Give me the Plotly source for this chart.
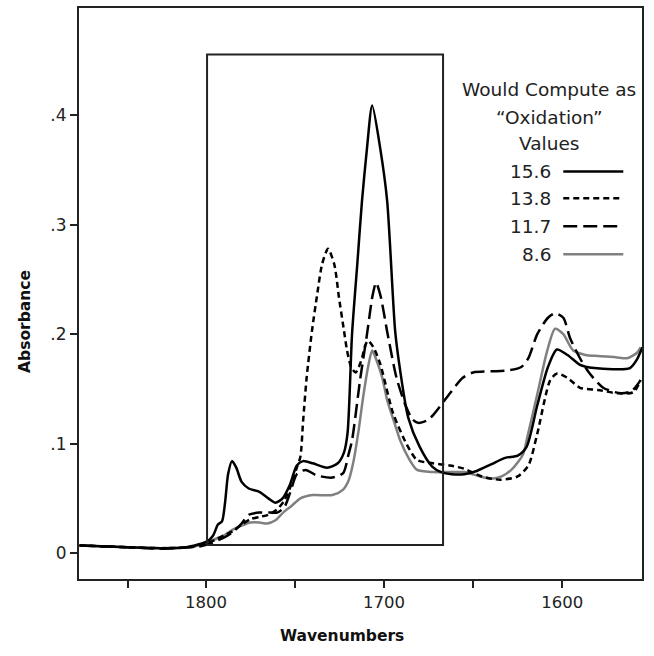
import plotly.graph_objects as go

# ---- data (wavenumber, absorbance) ----
WN_156 = [1871, 1855, 1840, 1825, 1812, 1804, 1799, 1796, 1793.3, 1791, 1789.3, 1787.6, 1785.4, 1783, 1780, 1776, 1770, 1765, 1761, 1757, 1753, 1749, 1745.5, 1740, 1732, 1726, 1722.5, 1720.5, 1718, 1715, 1712.4, 1709.6, 1706.7, 1702.2, 1698.3, 1693.8, 1691, 1686.5, 1680, 1673, 1668, 1662, 1655, 1648, 1640, 1632, 1625, 1620, 1614, 1608, 1603, 1597, 1590, 1582, 1570, 1562, 1558, 1555]
ABS_156 = [0.007, 0.006, 0.005, 0.0045, 0.005, 0.008, 0.011, 0.016, 0.026, 0.029, 0.046, 0.072, 0.084, 0.078, 0.065, 0.059, 0.056, 0.050, 0.046, 0.050, 0.062, 0.080, 0.084, 0.082, 0.078, 0.082, 0.092, 0.110, 0.200, 0.265, 0.322, 0.370, 0.409, 0.370, 0.322, 0.203, 0.167, 0.124, 0.097, 0.079, 0.074, 0.072, 0.072, 0.075, 0.081, 0.087, 0.089, 0.097, 0.135, 0.170, 0.186, 0.181, 0.172, 0.169, 0.168, 0.169, 0.177, 0.188]

WN_138 = [1871, 1855, 1840, 1825, 1812, 1804, 1799, 1795, 1790, 1785, 1780, 1775, 1770, 1765, 1760, 1756, 1752, 1749, 1747, 1745.5, 1743.5, 1740.5, 1737.6, 1734.8, 1731.5, 1728, 1725.3, 1722.5, 1720.8, 1718.5, 1716, 1713, 1710.5, 1709, 1706, 1702.2, 1695, 1687.5, 1681.5, 1672.5, 1663, 1655, 1645, 1635, 1625, 1619, 1614, 1606.7, 1602.8, 1597, 1590, 1580, 1569, 1560, 1556]
ABS_138 = [0.007, 0.006, 0.005, 0.0045, 0.005, 0.007, 0.009, 0.012, 0.016, 0.020, 0.026, 0.031, 0.033, 0.035, 0.040, 0.048, 0.063, 0.078, 0.088, 0.120, 0.160, 0.203, 0.236, 0.264, 0.278, 0.264, 0.233, 0.203, 0.185, 0.170, 0.165, 0.175, 0.190, 0.194, 0.188, 0.173, 0.128, 0.100, 0.085, 0.082, 0.080, 0.077, 0.070, 0.067, 0.070, 0.080, 0.109, 0.158, 0.164, 0.160, 0.151, 0.149, 0.146, 0.147, 0.158]

WN_117 = [1871, 1855, 1840, 1825, 1812, 1804, 1799, 1796, 1790, 1785, 1780, 1776, 1770, 1764, 1760, 1756, 1752.8, 1749, 1744, 1738, 1729, 1723, 1720, 1718, 1713.5, 1709.6, 1706.5, 1704.5, 1702, 1698, 1693, 1688, 1684, 1681, 1676, 1672.5, 1663, 1656, 1650, 1640, 1630, 1623, 1619, 1614, 1608, 1604, 1599.4, 1595.5, 1590, 1585, 1577, 1567, 1561, 1556]
ABS_117 = [0.007, 0.006, 0.005, 0.004, 0.005, 0.006, 0.008, 0.010, 0.014, 0.019, 0.027, 0.035, 0.037, 0.037, 0.037, 0.042, 0.055, 0.072, 0.076, 0.071, 0.069, 0.073, 0.090, 0.103, 0.158, 0.200, 0.235, 0.247, 0.235, 0.200, 0.160, 0.135, 0.122, 0.119, 0.121, 0.126, 0.146, 0.160, 0.165, 0.166, 0.167, 0.170, 0.178, 0.200, 0.215, 0.219, 0.215, 0.196, 0.178, 0.165, 0.151, 0.146, 0.148, 0.158]

WN_86 = [1871, 1855, 1840, 1825, 1812, 1804, 1799, 1796, 1790, 1785.4, 1780, 1775, 1770, 1765.7, 1761, 1756.7, 1752, 1747, 1740, 1729, 1723, 1720, 1717.4, 1714.5, 1711.8, 1709, 1706.7, 1704, 1701, 1698.3, 1694, 1691, 1686, 1681.5, 1672.5, 1663, 1655, 1646, 1640, 1634, 1628, 1622, 1619.7, 1614, 1608.4, 1604, 1599.4, 1593.8, 1587, 1580, 1570, 1563.5, 1558, 1556]
ABS_86 = [0.007, 0.006, 0.005, 0.0045, 0.005, 0.007, 0.009, 0.012, 0.016, 0.021, 0.025, 0.028, 0.028, 0.027, 0.030, 0.037, 0.043, 0.050, 0.053, 0.053, 0.058, 0.066, 0.082, 0.110, 0.142, 0.170, 0.185, 0.175, 0.160, 0.140, 0.118, 0.103, 0.086, 0.076, 0.074, 0.074, 0.074, 0.070, 0.068, 0.070, 0.077, 0.090, 0.105, 0.145, 0.185, 0.205, 0.200, 0.185, 0.181, 0.180, 0.179, 0.178, 0.183, 0.188]

SERIES_LABELS = ["15.6", "13.8", "11.7", "8.6"]
LEGEND_TITLE = ["Would Compute as", "\u201cOxidation\u201d", "Values"]
X_TICKS = [1800, 1700, 1600]
X_MINOR = [1844, 1750, 1650]
Y_TICKS = [0, 0.1, 0.2, 0.3, 0.4]
Y_TICKTEXT = ["0", ".1", ".2", ".3", ".4"]
X_RANGE = [1871.3, 1555.2]
Y_RANGE = [-0.0237, 0.498]
BOX_WN = [1799.4, 1666.9]
BOX_ABS = [0.0073, 0.4556]

FONT = "DejaVu Sans"
GRAY = "#808080"

styles = {
    "15.6": dict(color="black", dash="solid"),
    "13.8": dict(color="black", dash="6px,4px"),
    "11.7": dict(color="black", dash="14px,6px"),
    "8.6": dict(color=GRAY, dash="solid"),
}
data = {
    "15.6": (WN_156, ABS_156),
    "13.8": (WN_138, ABS_138),
    "11.7": (WN_117, ABS_117),
    "8.6": (WN_86, ABS_86),
}

fig = go.Figure()
for lab in ["8.6", "11.7", "13.8", "15.6"]:
    x, y = data[lab]
    st = styles[lab]
    fig.add_trace(go.Scatter(x=x, y=y, mode="lines", name=lab, showlegend=False,
                             line=dict(color=st["color"], dash=st["dash"], width=2.5,
                                       shape="spline", smoothing=0.7)))

# inner rectangle
fig.add_shape(type="rect", xref="x", yref="y", x0=BOX_WN[0], x1=BOX_WN[1],
              y0=BOX_ABS[0], y1=BOX_ABS[1], line=dict(color="#222", width=2))

# custom legend (text left of line sample)
L, R, T, B = 79, 641.7, 6, 579
def px(xp):
    return (xp - L) / (R - L)
def py(yp):
    return (B - yp) / (B - T)

for txt, yy in zip(LEGEND_TITLE, [88, 116, 142]):
    fig.add_annotation(text=txt, xref="paper", yref="paper", x=px(549), y=py(yy),
                       showarrow=False, xanchor="center", yanchor="middle",
                       font=dict(family=FONT, size=18.5, color="#222"))
for lab, yy in zip(SERIES_LABELS, [170, 197, 225, 253]):
    fig.add_annotation(text=lab, xref="paper", yref="paper", x=px(553), y=py(yy),
                       showarrow=False, xanchor="right", yanchor="middle",
                       font=dict(family=FONT, size=18.5, color="#222"))
    st = styles[lab]
    fig.add_shape(type="line", xref="paper", yref="paper", x0=px(563), x1=px(623),
                  y0=py(yy), y1=py(yy), line=dict(color=st["color"], dash=st["dash"], width=2.5))

# axis titles
fig.add_annotation(text="<b>Absorbance</b>", xref="paper", yref="paper", x=px(25), y=py(320),
                   textangle=-90, showarrow=False, xanchor="center", yanchor="middle",
                   font=dict(family=FONT, size=15.5, color="#111"))
fig.add_annotation(text="<b>Wavenumbers</b>", xref="paper", yref="paper", x=px(342), y=py(636),
                   showarrow=False, xanchor="center", yanchor="middle",
                   font=dict(family=FONT, size=15.5, color="#111"))

fig.update_xaxes(range=X_RANGE, tickvals=X_TICKS, ticks="outside", ticklen=7, tickwidth=2,
                 tickcolor="#222", showline=True, linecolor="#222", linewidth=2, mirror=True,
                 showgrid=False, zeroline=False,
                 tickfont=dict(family=FONT, size=16.5, color="#222"),
                 minor=dict(tickvals=X_MINOR, ticks="outside", ticklen=7, tickwidth=2, tickcolor="#222"))
fig.update_yaxes(range=Y_RANGE, tickvals=Y_TICKS, ticktext=Y_TICKTEXT, ticks="outside", ticklen=7,
                 tickwidth=2, tickcolor="#222", showline=True, linecolor="#222", linewidth=2, mirror=True,
                 showgrid=False, zeroline=False,
                 tickfont=dict(family=FONT, size=17, color="#222"))

fig.update_layout(width=654, height=656, margin=dict(l=L, r=654 - R, t=T, b=656 - B),
                  plot_bgcolor="white", paper_bgcolor="white", showlegend=False)

fig.write_html("out.html")
